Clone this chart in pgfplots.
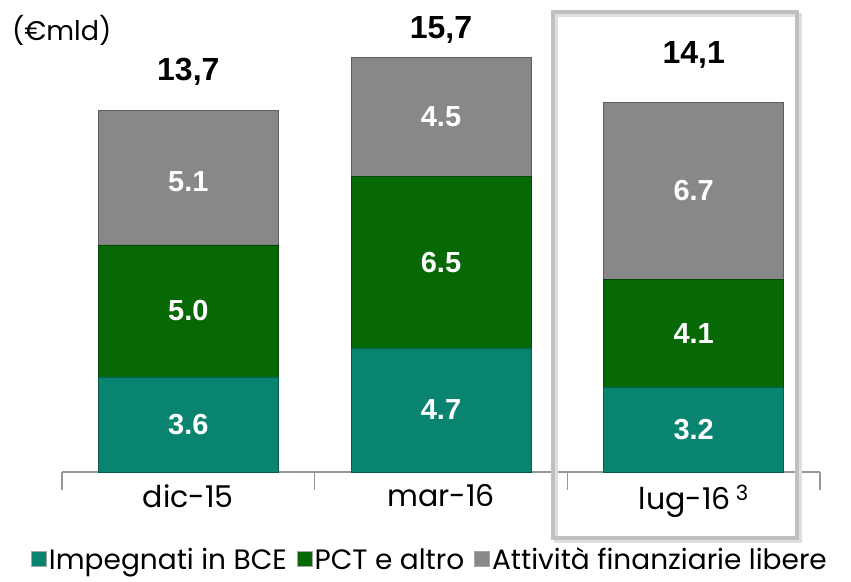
\documentclass[border=0pt]{standalone}
\usepackage{pgfplots}
\pgfplotsset{compat=1.18}
\usepackage{pgfplotstable}
\usepackage{fontspec}
\setmainfont{Poppins}
\newfontfamily\numfont{Liberation Sans}
\definecolor{cteal}{RGB}{8,132,112}
\definecolor{cgreen}{RGB}{6,105,6}
\definecolor{cgray}{RGB}{136,136,136}
\definecolor{caxis}{RGB}{150,150,150}
\definecolor{cbox}{RGB}{192,192,192}

\pgfplotstableread{
x bce pct att
0 3.6 5.0 5.1
1 4.7 6.5 4.5
2 3.2 4.1 6.7
}\data

\pgfplotstableread{
x y lab
0 1.8 3.6
0 6.1 5.0
0 11.0 5.1
1 2.35 4.7
1 7.95 6.5
1 13.45 4.5
2 1.6 3.2
2 5.25 4.1
2 10.65 6.7
}\labs

\pgfplotstableread{
x y lab
0 15.15 13,7
1 16.74 15,7
2 15.80 14,1
}\tots

\pgfplotsset{base/.style={
  width=758pt, height=472pt, scale only axis,
  xmin=-0.5, xmax=2.5, ymin=0, ymax=17.879,
  enlargelimits=false, clip=false,
}}

\begin{document}
\begin{tikzpicture}
\begin{axis}[base,
  ybar stacked, bar width=180pt,
  axis y line=none, axis x line*=bottom,
  x axis line style={-, caxis, line width=1.5pt},
  xtick={0,1,2},
  xticklabels={dic-15, mar-16, {lug-16\,\textsuperscript{3}}},
  major tick length=0pt,
  minor xtick={-0.5,0.5,1.5,2.5},
  minor tick length=18pt, tick align=outside,
  every minor tick/.style={caxis, line width=1.5pt},
  xticklabel style={font=\fontsize{30}{32}\selectfont, yshift=-9pt},
  ytick=\empty,
  legend columns=3,
  legend style={at={(0.4855,-0.186)}, anchor=center, draw=none, fill=none,
    font=\fontsize{28}{30}\selectfont, inner sep=0pt,
    /tikz/every even column/.append style={column sep=8pt}},
  legend image code/.code={\draw[#1,draw=gray!70,line width=0.8pt] (0pt,-7pt) rectangle (15pt,8pt);},
]
\addplot[fill=cteal, draw=cteal!70!black, line width=0.6pt] table[x=x, y=bce] {\data};
\addlegendentry{Impegnati in BCE}
\addplot[fill=cgreen, draw=cgreen!70!black, line width=0.6pt] table[x=x, y=pct] {\data};
\addlegendentry{PCT e altro}
\addplot[fill=cgray, draw=cgray!70!black, line width=0.6pt] table[x=x, y=att] {\data};
\addlegendentry{Attività finanziarie libere}
\end{axis}

\begin{axis}[base, hide axis]
\addplot[only marks, mark=none, nodes near coords, point meta=explicit symbolic,
  every node near coord/.style={anchor=center, text=white, font=\numfont\bfseries\fontsize{29}{30}\selectfont}]
  table[x=x, y=y, meta=lab] {\labs};
\addplot[only marks, mark=none, nodes near coords, point meta=explicit symbolic,
  every node near coord/.style={anchor=center, text=black, font=\numfont\bfseries\fontsize{32}{34}\selectfont}]
  table[x=x, y=y, meta=lab] {\tots};
\draw[gray!25, line width=4pt] (axis cs:1.455,-2.62) rectangle (axis cs:2.421,17.30);
\draw[cbox, line width=4pt] (axis cs:1.443,-2.5) rectangle (axis cs:2.409,17.42);
\node[anchor=west, inner sep=0pt, font=\fontsize{27}{30}\selectfont] at (axis cs:-0.698,16.74) {(€mld)};
\path (axis cs:-0.7454,17.879) rectangle (axis cs:2.6227,-4.1667);
\end{axis}
\end{tikzpicture}
\end{document}
